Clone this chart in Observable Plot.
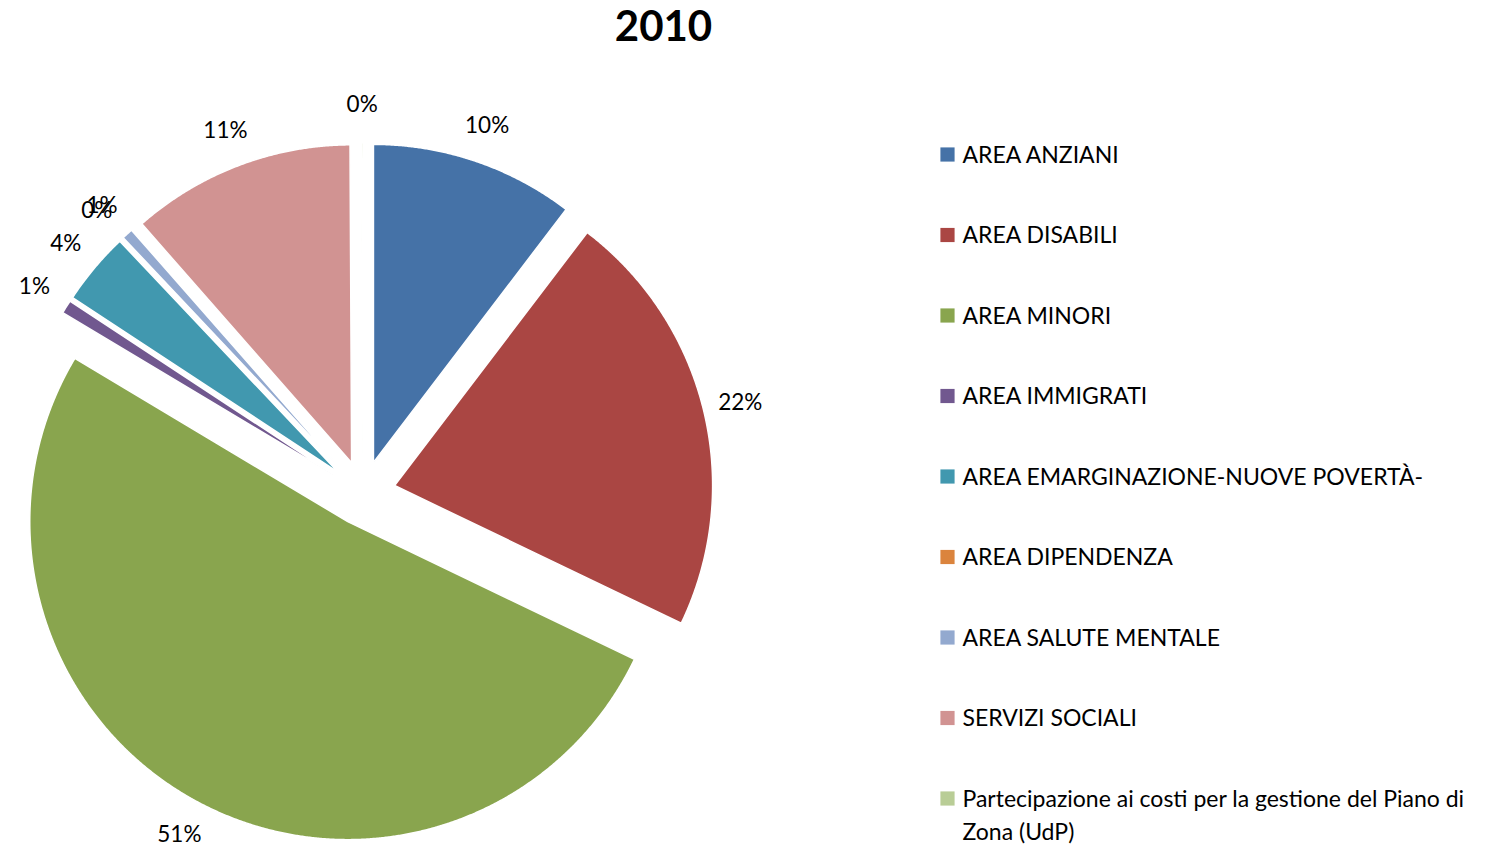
<!DOCTYPE html>
<html>
<head>
<meta charset="utf-8">
<script src="https://cdn.jsdelivr.net/npm/d3@7"></script>
<script src="https://cdn.jsdelivr.net/npm/@observablehq/plot@0.6"></script>
<style>
  html, body { margin: 0; padding: 0; background: #ffffff; }
  #chart { position: absolute; left: 0; top: 0; }
</style>
</head>
<body>
<div id="chart"></div>
<script>
// ---- data ----
const chartTitle = "2010";
const categories = [
  "AREA ANZIANI",
  "AREA DISABILI",
  "AREA MINORI",
  "AREA IMMIGRATI",
  "AREA EMARGINAZIONE-NUOVE POVERTÀ-",
  "AREA DIPENDENZA",
  "AREA SALUTE MENTALE",
  "SERVIZI SOCIALI",
  "Partecipazione ai costi per la gestione del Piano di Zona (UdP)"
];
const shares = [10.36, 21.78, 51.47, 0.68, 3.69, 0.03, 0.56, 11.39, 0.08];
const colors = ["#4572A7", "#AA4643", "#89A54E", "#71588F", "#4198AF", "#DB843D", "#93A9CF", "#D19392", "#B9CD96"];
const legendLabels = [
  "AREA ANZIANI",
  "AREA DISABILI",
  "AREA MINORI",
  "AREA IMMIGRATI",
  "AREA EMARGINAZIONE-NUOVE POVERTÀ-",
  "AREA DIPENDENZA",
  "AREA SALUTE MENTALE",
  "SERVIZI SOCIALI",
  "Partecipazione ai costi per la gestione del Piano di\nZona (UdP)"
];

// ---- layout ----
const W = 1506, H = 846;
const CX = 362.6, CY = 492.6, R = 318, EXPLODE = 32.4, LABEL_R = 388;
const FONT = "Lato, 'Open Sans', sans-serif";
const FS = 22.5, LEG_FS = 23;
const LEG_X = 947, LEG_TX = 962, LEG_Y0 = 154, LEG_STEP = 80.5;

const total = d3.sum(shares);
let acc = 0;
const slices = categories.map((key, i) => {
  const a0 = acc / total * 2 * Math.PI;
  acc += shares[i];
  const a1 = acc / total * 2 * Math.PI;
  const mid = (a0 + a1) / 2;
  return {
    key, a0, a1, mid,
    ox: EXPLODE * Math.sin(mid), oy: -EXPLODE * Math.cos(mid),
    lx: CX + LABEL_R * Math.sin(mid), ly: CY - LABEL_R * Math.cos(mid),
    label: Math.round(shares[i] / total * 100) + "%"
  };
});

const piePoints = [];
for (const s of slices) {
  const ax = CX + s.ox, ay = CY + s.oy;
  piePoints.push({key: s.key, x: ax, y: ay});
  const n = Math.max(2, Math.ceil((s.a1 - s.a0) / 0.004));
  for (let k = 0; k <= n; k++) {
    const t = s.a0 + (s.a1 - s.a0) * k / n;
    piePoints.push({key: s.key, x: ax + R * Math.sin(t), y: ay - R * Math.cos(t)});
  }
}

const legendRows = categories.map((key, i) => ({
  key,
  label: legendLabels[i],
  sx: LEG_X,
  tx: LEG_TX,
  y: LEG_Y0 + i * LEG_STEP,
  ty: LEG_Y0 + i * LEG_STEP - 0.66 * LEG_FS
}));

const chart = Plot.plot({
  width: W,
  height: H,
  margin: 0,
  style: {fontFamily: FONT, background: "#ffffff"},
  x: {domain: [0, W], range: [0, W], axis: null},
  y: {domain: [0, H], range: [0, H], axis: null},
  color: {domain: categories, range: colors},
  marks: [
    Plot.line(piePoints, {
      x: "x", y: "y", z: "key", fill: "key",
      stroke: "#ffffff", strokeWidth: 1.5, curve: "linear-closed"
    }),
    Plot.text(slices, {
      x: "lx", y: "ly", text: "label",
      fontSize: FS, fill: "#000000", fontFamily: FONT
    }),
    Plot.dot(legendRows, {
      x: "sx", y: "y", fill: "key", symbol: "square", r: 8, stroke: null
    }),
    Plot.text(legendRows, {
      x: "tx", y: "ty", text: "label", textAnchor: "start", lineAnchor: "top",
      lineHeight: 33 / LEG_FS, fontSize: LEG_FS, fill: "#000000", fontFamily: FONT
    }),
    Plot.text([chartTitle], {
      x: () => 663, y: () => 27, text: d => d,
      fontSize: 42, fontWeight: "bold", fill: "#000000", fontFamily: FONT
    })
  ]
});
document.getElementById("chart").appendChild(chart);
</script>
</body>
</html>
